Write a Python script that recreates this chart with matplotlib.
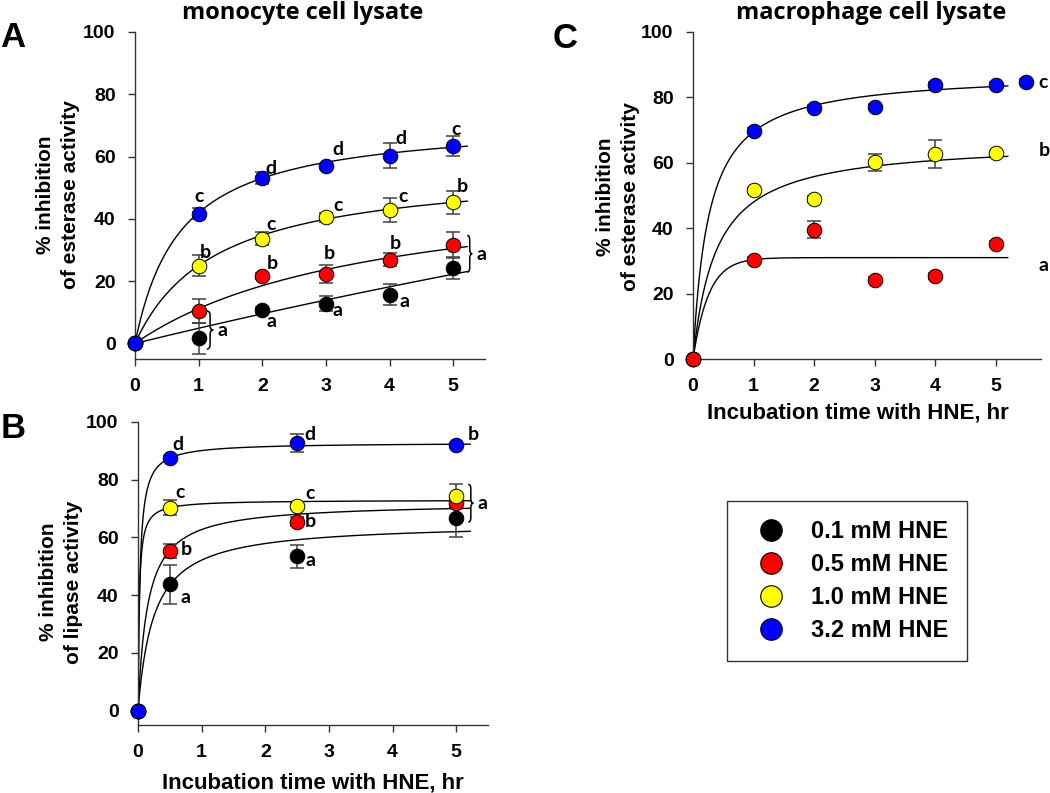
import matplotlib
matplotlib.use("Agg")
import matplotlib.pyplot as plt
import numpy as np
from matplotlib.path import Path
from matplotlib.patches import PathPatch
from matplotlib.lines import Line2D

plt.rcParams['font.family'] = ['Liberation Sans', 'DejaVu Sans']
plt.rcParams['font.weight'] = 'bold'

# ---------------- data ----------------
conc_labels = ['0.1 mM HNE', '0.5 mM HNE', '1.0 mM HNE', '3.2 mM HNE']
colors = ['#000000', '#ff0000', '#ffff00', '#0000ff']

# panel A: monocyte esterase
a_time = [0, 1, 2, 3, 4, 5]
a_black = [0, 1.6, 10.7, 12.8, 15.7, 24.3]
a_black_err = [0, 5.0, 1.0, 2.5, 3.3, 3.5]
a_red = [0, 10.4, 21.6, 22.3, 26.9, 31.7]
a_red_err = [0, 4.0, 1.0, 3.0, 2.0, 4.2]
a_yellow = [0, 25.0, 33.6, 40.5, 42.9, 45.3]
a_yellow_err = [0, 3.4, 2.1, 1.5, 3.8, 3.8]
a_blue = [0, 41.6, 53.0, 56.9, 60.3, 63.4]
a_blue_err = [0, 1.8, 1.9, 0.8, 4.0, 3.2]
# hyperbolic fits y = p0*x/(p1+x)
a_fits = [(200.0, 40.0), (53.6, 3.78), (56.8, 1.27), (72.0, 0.714)]

# panel B: monocyte lipase
b_time = [0, 0.5, 2.5, 5]
b_black = [0, 43.7, 53.5, 66.7]
b_black_err = [0, 6.8, 4.0, 6.5]
b_red = [0, 55.3, 65.5, 71.9]
b_red_err = [0, 2.5, 1.5, 1.5]
b_yellow = [0, 70.3, 70.8, 74.5]
b_yellow_err = [0, 2.5, 1.0, 4.0]
b_blue = [0, 87.5, 92.8, 91.9]
b_blue_err = [0, 0.8, 3.2, 0.8]
b_fits = [(65.07, 0.248), (72.1, 0.1495), (72.98, 0.019), (92.87, 0.0307)]

# panel C: macrophage esterase
c_time_blue = [0, 1, 2, 3, 4, 5, 5.5]
c_blue = [0, 69.7, 76.8, 77.2, 83.9, 83.9, 84.8]
c_blue_err = [0, 0.8, 0.8, 0.8, 0.8, 0.8, 0.8]
c_time = [0, 1, 2, 3, 4, 5]
c_yellow = [0, 51.6, 48.9, 60.1, 62.6, 62.9]
c_yellow_err = [0, 0.8, 0.8, 2.5, 4.3, 0.8]
c_red = [0, 30.4, 39.6, 24.3, 25.4, 35.3]
c_red_err = [0, 0.8, 2.5, 0.8, 0.8, 0.8]
c_fit_blue = (87.7, 0.262)
c_fit_yellow = (66.6, 0.388)
c_fit_red = (31.0, 3.9)   # y = p0*(1-exp(-p1*x))

# significance letters
a_letters = {
    3: ['', 'c', 'd', 'd', 'd', 'c'],
    2: ['', 'b', 'c', 'c', 'c', 'b'],
    1: ['', '', 'b', 'b', 'b', ''],
    0: ['', '', 'a', 'a', 'a', ''],
}
b_letters = {
    3: ['', 'd', 'd', 'b'],
    2: ['', 'c', 'c', ''],
    1: ['', 'b', 'b', ''],
    0: ['', 'a', 'a', ''],
}
c_letters = ['a', 'b', 'c']
c_letter_y = [28.7, 63.9, 84.7]

# letter offsets in pixels (dx, dy up)
a_off = {
    3: [None, (0, 17), (9, 10), (12, 17), (11, 17), (3, 16)],
    2: [None, (7, 13), (9, 14), (12, 12), (14, 13), (9, 16)],
    1: [None, None, (10, 13), (3, 20), (6, 16), None],
    0: [None, None, (9, -11), (12, -7), (15, -7), None],
}
b_off = {
    3: [None, (8, 14), (13, 8), (17, 11)],
    2: [None, (10, 15), (13, 13), None],
    1: [None, (16, 1), (13, 0), None],
    0: [None, (16, -13), (13, -4), None],
}

W, H = 1050, 793
fig = plt.figure(figsize=(W / 100, H / 100), dpi=100)


def px_axes(l, t, r, b):
    return fig.add_axes([l / W, 1 - b / H, (r - l) / W, (b - t) / H])


def hyper(x, p):
    return p[0] * x / (p[1] + x)


def style(ax, xlim, ylim):
    ax.set_xlim(*xlim)
    ax.set_ylim(*ylim)
    for s in ['top', 'right']:
        ax.spines[s].set_visible(False)
    for s in ['left', 'bottom']:
        ax.spines[s].set_color('#333333')
        ax.spines[s].set_linewidth(1.0)
    ax.set_xticks([0, 1, 2, 3, 4, 5])
    ax.set_yticks([0, 20, 40, 60, 80, 100])
    ax.tick_params(axis='both', direction='out', length=5, width=1,
                   color='#333333', labelsize=14)
    ax.tick_params(axis='x', pad=9)
    ax.tick_params(axis='y', pad=9)
    for lab in ax.get_xticklabels() + ax.get_yticklabels():
        lab.set_fontweight('bold')


def points(ax, x, y, err, color):
    ax.errorbar(x, y, yerr=err, fmt='none', ecolor='#404040', elinewidth=1.1,
                capsize=5, capthick=1.1, zorder=3, clip_on=False)
    ax.plot(x, y, 'o', ms=10.5, mfc=color, mec='black', mew=0.7,
            zorder=4, clip_on=False)


def brace(ax, x, y0, y1, w, r):
    ym = (y0 + y1) / 2
    xm = x + w / 2
    verts = [(x, y1), (xm, y1), (xm, y1 - r), (xm, ym + r), (xm, ym), (x + w, ym),
             (xm, ym), (xm, ym - r), (xm, y0 + r), (xm, y0), (x, y0)]
    codes = [Path.MOVETO, Path.CURVE3, Path.CURVE3, Path.LINETO, Path.CURVE3, Path.CURVE3,
             Path.CURVE3, Path.CURVE3, Path.LINETO, Path.CURVE3, Path.CURVE3]
    ax.add_patch(PathPatch(Path(verts, codes), fill=False, lw=1.1,
                           ec='black', clip_on=False, zorder=5))


def letter(ax, x, y, s, off):
    ax.annotate(s, (x, y), xytext=off, textcoords='offset pixels',
                ha='center', va='center', fontsize=14, fontweight='bold',
                family=['Lato', 'DejaVu Sans'], annotation_clip=False)


# ---------------- panel A ----------------
axA = px_axes(135, 32, 485, 359)
style(axA, (0, 5.5), (-5, 100))
xs = np.linspace(0, 5.22, 200)
a_series = [(a_black, a_black_err), (a_red, a_red_err),
            (a_yellow, a_yellow_err), (a_blue, a_blue_err)]
for i, p in enumerate(a_fits):
    axA.plot(xs, hyper(xs, p), color='black', lw=1.0, zorder=2)
for i, (y, e) in enumerate(a_series):
    points(axA, a_time, y, e, colors[i])
for i in range(4):
    for j, s in enumerate(a_letters[i]):
        if s:
            letter(axA, a_time[j], a_series[i][0][j], s, a_off[i][j])
brace(axA, 1.13, -1.8, 10.4, 0.1, 1.5)
letter(axA, 1.38, 4.2, 'a', (0, 0))
brace(axA, 5.22, 22.9, 34.7, 0.08, 1.5)
letter(axA, 5.44, 28.5, 'a', (0, 0))

# ---------------- panel B ----------------
axB = px_axes(138, 422, 488, 725)
style(axB, (0, 5.5), (-5, 100))
b_series = [(b_black, b_black_err), (b_red, b_red_err),
            (b_yellow, b_yellow_err), (b_blue, b_blue_err)]
xs = np.linspace(0, 5.22, 400)
for p in b_fits:
    axB.plot(xs, hyper(xs, p), color='black', lw=1.0, zorder=2)
for i, (y, e) in enumerate(b_series):
    points(axB, b_time, y, e, colors[i])
for i in range(4):
    for j, s in enumerate(b_letters[i]):
        if s:
            letter(axB, b_time[j], b_series[i][0][j], s, b_off[i][j])
brace(axB, 5.19, 65.3, 78.4, 0.08, 1.5)
letter(axB, 5.42, 71.8, 'a', (0, 0))

# ---------------- panel C ----------------
axC = px_axes(693, 32, 1041, 359)
style(axC, (0, 5.75), (0, 100))
xs = np.linspace(0, 5.2, 400)
axC.plot(xs, hyper(xs, c_fit_blue), color='black', lw=1.0, zorder=2)
axC.plot(xs, hyper(xs, c_fit_yellow), color='black', lw=1.0, zorder=2)
axC.plot(xs, c_fit_red[0] * (1 - np.exp(-c_fit_red[1] * xs)), color='black', lw=1.0, zorder=2)
points(axC, c_time_blue, c_blue, c_blue_err, colors[3])
points(axC, c_time, c_yellow, c_yellow_err, colors[2])
points(axC, c_time, c_red, c_red_err, colors[1])
for s, yv in zip(c_letters, c_letter_y):
    axC.text(5.71, yv, s, ha='left', va='center', fontsize=14, fontweight='bold',
             family=['Lato', 'DejaVu Sans'], clip_on=False)

# ---------------- texts ----------------
def ftext(x, y, s, **kw):
    fig.text(x / W, 1 - y / H, s, **kw)


title_kw = dict(ha='center', va='baseline', fontsize=17, fontweight='bold',
                family=['Open Sans', 'DejaVu Sans'])
ftext(303, 19, 'monocyte cell lysate', **title_kw)
ftext(871, 19, 'macrophage cell lysate', **title_kw)
ftext(0, 47, 'A', ha='left', va='baseline', fontsize=25, fontweight='bold')
ftext(1, 438, 'B', ha='left', va='baseline', fontsize=25, fontweight='bold')
ftext(553, 48, 'C', ha='left', va='baseline', fontsize=25, fontweight='bold')

ylab_kw = dict(ha='center', va='center', rotation=90, fontsize=15,
               fontweight='bold', linespacing=1.35)
ftext(58, 195, '% inhibition\nof esterase activity', **ylab_kw)
ftext(61, 582, '% inhibition\nof lipase activity', **ylab_kw)
ftext(618, 197, '% inhibition\nof esterase activity', **ylab_kw)
ftext(313, 789, 'Incubation time with HNE, hr', ha='center', va='baseline',
      fontsize=16, fontweight='bold')
ftext(858, 418, 'Incubation time with HNE, hr', ha='center', va='baseline',
      fontsize=16, fontweight='bold')

# ---------------- legend ----------------
handles = [Line2D([], [], ls='none', marker='o', ms=15.5, mfc=c, mec='black', mew=0.8)
           for c in colors]
leg = fig.legend(handles, conc_labels, loc='center',
                 bbox_to_anchor=(847 / W, 1 - 581 / H), frameon=True,
                 fancybox=False, framealpha=1, edgecolor='#333333',
                 prop={'size': 17, 'weight': 'bold'}, borderpad=0.8,
                 labelspacing=0.42, handlelength=2.1, handletextpad=0.65)
leg.get_frame().set_linewidth(1.0)

fig.savefig('out.png', dpi=100)
